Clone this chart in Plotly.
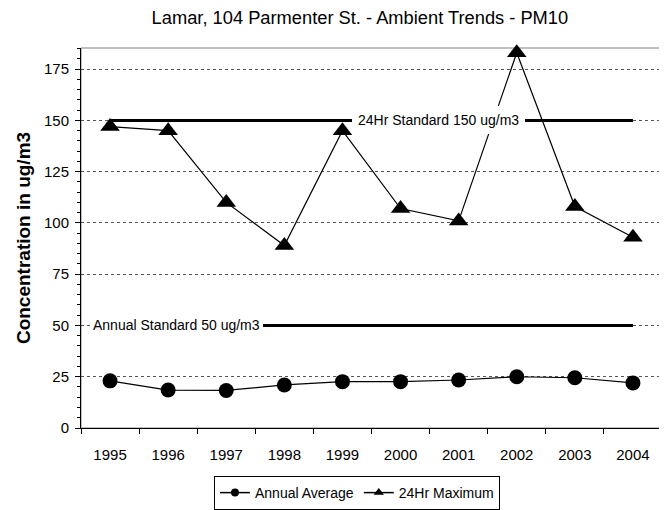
import plotly.graph_objects as go

years = ["1995", "1996", "1997", "1998", "1999", "2000", "2001", "2002", "2003", "2004"]
annual_avg = [23, 18.5, 18.3, 21, 22.6, 22.6, 23.4, 25, 24.5, 22]
max_24hr = [147, 145, 110, 89, 145, 107, 101, 183, 108, 93]
std_24hr = [150] * len(years)
std_annual = [50] * len(years)
std_24hr_label = "24Hr Standard 150 ug/m3"
std_annual_label = "Annual Standard 50 ug/m3"

FONT = "Liberation Sans, Arial, sans-serif"

fig = go.Figure()

fig.add_trace(go.Scatter(x=years, y=std_24hr, mode="lines", line=dict(color="black", width=3),
                         showlegend=False, hoverinfo="skip"))
fig.add_trace(go.Scatter(x=years, y=std_annual, mode="lines", line=dict(color="black", width=3),
                         showlegend=False, hoverinfo="skip"))

fig.add_trace(go.Scatter(x=years, y=annual_avg, mode="lines+markers", name="Annual Average",
                         line=dict(color="black", width=1.2), showlegend=False, cliponaxis=False,
                         marker=dict(symbol="circle", size=15, color="black")))
fig.add_trace(go.Scatter(x=years, y=max_24hr, mode="lines+markers", name="24Hr Maximum",
                         line=dict(color="black", width=1.2), showlegend=False, cliponaxis=False,
                         marker=dict(symbol="triangle-up", size=17, color="black")))

# legend entries (smaller symbols, as in the reference legend)
fig.add_trace(go.Scatter(x=[None], y=[None], mode="lines+markers", name="Annual Average",
                         line=dict(color="black", width=1.5),
                         marker=dict(symbol="circle", size=8, color="black")))
fig.add_trace(go.Scatter(x=[None], y=[None], mode="lines+markers", name="24Hr Maximum",
                         line=dict(color="black", width=1.5),
                         marker=dict(symbol="triangle-up", size=9, color="black")))

fig.add_annotation(x=years.index("2000"), y=std_24hr[0], text=std_24hr_label, showarrow=False,
                   xshift=38, bgcolor="white", borderpad=6, borderwidth=0,
                   font=dict(family=FONT, size=14, color="black"))
fig.add_annotation(x=0, y=std_annual[0], text=std_annual_label, showarrow=False,
                   xanchor="left", xshift=-20, bgcolor="white", borderpad=3, borderwidth=0,
                   font=dict(family=FONT, size=14, color="black"))

# page body has an 8px default margin, so the figure is 8px smaller than the window
fig.update_layout(
    width=659, height=502,
    margin=dict(l=73, r=5, t=40, b=82),
    paper_bgcolor="white", plot_bgcolor="white",
    font=dict(family=FONT, size=14, color="black"),
    title=dict(text="Lamar, 104 Parmenter St. - Ambient Trends - PM10", x=0.534, xanchor="center",
               y=0.981, yanchor="middle", font=dict(family=FONT, size=18.3, color="black")),
    showlegend=True,
    legend=dict(orientation="h", xref="paper", x=0.475, xanchor="center",
                yref="container", y=0.0677, yanchor="top",
                bordercolor="black", borderwidth=1, font=dict(family=FONT, size=14),
                itemwidth=30, tracegroupgap=0),
    xaxis=dict(type="category", range=[-0.5, 9.5], tickson="boundaries", ticks="outside",
               ticklen=5, tickcolor="black", showline=True, linecolor="black", linewidth=1,
               mirror=False, showgrid=False, tickfont=dict(size=15), zeroline=False,
               ticklabelstandoff=13, automargin=False),
    yaxis=dict(range=[0, 185.3], dtick=25, tick0=0, ticks="outside", ticklen=5, tickcolor="black",
               showline=True, linecolor="black", linewidth=1, showgrid=True,
               gridcolor="#555555", griddash="dot", gridwidth=1, zeroline=False,
               minor=dict(dtick=5, ticks="outside", ticklen=3, tickcolor="black", showgrid=False),
               title=dict(text="<b>Concentration in ug/m3</b>", font=dict(family=FONT, size=19),
                          standoff=8),
               tickfont=dict(size=15), ticklabelstandoff=3, automargin=False),
)

# plot-area frame (top and right edges in grey)
fig.add_shape(type="rect", xref="paper", yref="paper", x0=0, y0=0, x1=1, y1=1,
              line=dict(color="#808080", width=1), layer="below")

fig.write_html("out.html")
